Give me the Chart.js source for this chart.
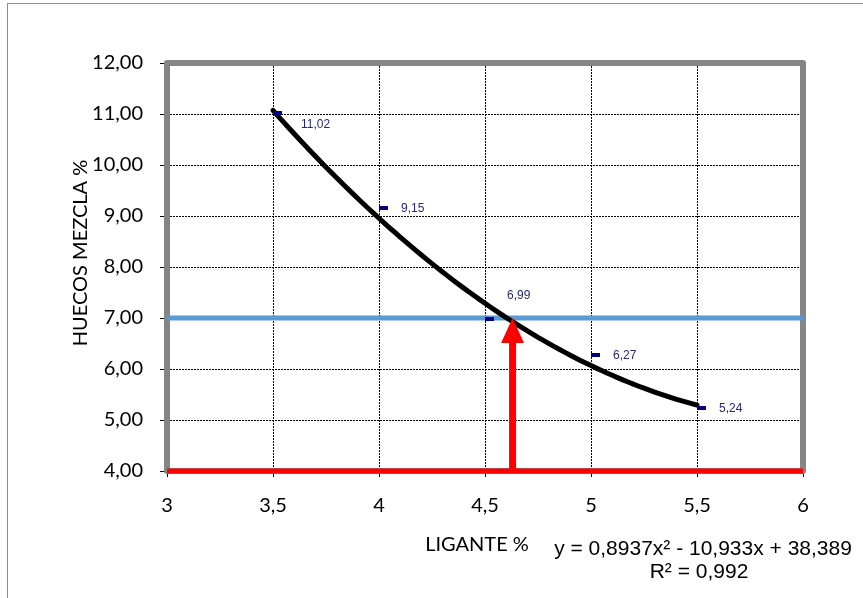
<!DOCTYPE html>
<html>
<head>
<meta charset="utf-8">
<script src="https://cdn.jsdelivr.net/npm/chart.js@4/dist/chart.umd.min.js"></script>
<style>
  html, body { margin: 0; padding: 0; background: #ffffff; }
  #wrap { width: 863px; height: 598px; position: relative; }
</style>
</head>
<body>
<div id="wrap"><canvas id="c" width="863" height="598"></canvas></div>
<script>
// Ensayo Marshall: huecos en mezcla frente a contenido de ligante
const ligante = [3.5, 4.0, 4.5, 5.0, 5.5];
const huecos = [11.02, 9.15, 6.99, 6.27, 5.24];
const valueLabels = ['11,02', '9,15', '6,99', '6,27', '5,24'];

// Línea de tendencia polinómica de grado 2: y = a·x² + b·x + c
const trendCoef = [0.8937, -10.933, 38.389];
const trendRange = [3.5, 5.5];
const equationLines = ['y = 0,8937x\u00B2 - 10,933x + 38,389', 'R\u00B2 = 0,992'];

// Huecos objetivo y contenido óptimo de ligante
const targetHuecos = 7;
const optimoLigante = 4.63;

const xTicks = [3, 3.5, 4, 4.5, 5, 5.5, 6];
const yTicks = [4, 5, 6, 7, 8, 9, 10, 11, 12];
const xTitle = 'LIGANTE %';
const yTitle = 'HUECOS MEZCLA %';

// Curva de tendencia evaluada sobre el rango de ensayo
const trendPoints = [];
for (let i = 0; i <= 80; i++) {
  const xv = trendRange[0] + (trendRange[1] - trendRange[0]) * i / 80;
  trendPoints.push({ x: xv, y: trendCoef[0] * xv * xv + trendCoef[1] * xv + trendCoef[2] });
}

// Marcador tipo guion (se dibuja a la derecha del punto)
const dash = document.createElement('canvas');
dash.width = 18; dash.height = 4;
(function () {
  const g = dash.getContext('2d');
  g.fillStyle = '#000080';
  g.fillRect(9, 0, 9, 4);
})();

const labelOffsets = [[28, 12], [22, 0], [22, -23], [22, 0], [22, 1]];

const decorations = {
  id: 'decorations',
  beforeDraw(chart) {
    const ctx = chart.ctx;
    ctx.save();
    ctx.fillStyle = '#ffffff';
    ctx.fillRect(0, 0, chart.width, chart.height);
    ctx.strokeStyle = '#8c8c8c';
    ctx.lineWidth = 1;
    ctx.strokeRect(7.5, 3.5, 1000, 1000);
    ctx.restore();
  },
  beforeDatasetsDraw(chart) {
    const ctx = chart.ctx;
    const a = chart.chartArea;
    ctx.save();
    ctx.strokeStyle = '#858585';
    ctx.lineWidth = 6;
    ctx.lineJoin = 'round';
    ctx.strokeRect(a.left, a.top, a.right - a.left, a.bottom - a.top);
    ctx.restore();
  },
  afterDatasetsDraw(chart) {
    const ctx = chart.ctx;
    const xs = chart.scales.x, ys = chart.scales.y;
    ctx.save();
    // Flecha hacia el contenido óptimo
    const ax = xs.getPixelForValue(optimoLigante);
    const yTip = ys.getPixelForValue(targetHuecos);
    const yBase = ys.getPixelForValue(yTicks[0]);
    const headLen = 25, headHalf = 11.5, shaftHalf = 3.5;
    ctx.fillStyle = '#ff0000';
    ctx.beginPath();
    ctx.moveTo(ax - shaftHalf, yBase);
    ctx.lineTo(ax - shaftHalf, yTip + headLen);
    ctx.lineTo(ax - headHalf, yTip + headLen);
    ctx.lineTo(ax, yTip);
    ctx.lineTo(ax + headHalf, yTip + headLen);
    ctx.lineTo(ax + shaftHalf, yTip + headLen);
    ctx.lineTo(ax + shaftHalf, yBase);
    ctx.closePath();
    ctx.fill();

    // Etiquetas de valor
    ctx.fillStyle = '#26267f';
    ctx.font = '12px "Liberation Sans", Arial, sans-serif';
    ctx.textAlign = 'left';
    ctx.textBaseline = 'middle';
    ligante.forEach((xv, i) => {
      const px = xs.getPixelForValue(xv) + labelOffsets[i][0];
      const py = ys.getPixelForValue(huecos[i]) + labelOffsets[i][1];
      ctx.fillText(valueLabels[i], px, py);
    });

    // Títulos de ejes
    ctx.fillStyle = '#000000';
    ctx.font = '20px Lato, "Open Sans", sans-serif';
    ctx.textAlign = 'center';
    ctx.fillText(xTitle, 477, 545);
    ctx.save();
    ctx.translate(81, 253);
    ctx.rotate(-Math.PI / 2);
    ctx.fillText(yTitle, 0, 0);
    ctx.restore();

    // Ecuación de la tendencia
    ctx.font = '21px "Liberation Sans", Arial, sans-serif';
    ctx.fillText(equationLines[0], 703, 549);
    ctx.fillText(equationLines[1], 699, 572);
    ctx.restore();
  }
};

new Chart(document.getElementById('c'), {
  type: 'scatter',
  data: {
    datasets: [
      {
        label: 'Huecos',
        data: ligante.map((v, i) => ({ x: v, y: huecos[i] })),
        pointStyle: dash,
        pointRadius: 4,
        showLine: false,
        order: 0,
        clip: false
      },
      {
        label: 'Tendencia',
        data: trendPoints,
        showLine: true,
        borderColor: '#000000',
        borderWidth: 5,
        pointRadius: 0,
        tension: 0,
        borderCapStyle: 'round',
        order: 1,
        clip: false
      },
      {
        label: 'Huecos objetivo',
        data: [{ x: xTicks[0], y: targetHuecos }, { x: xTicks[xTicks.length - 1], y: targetHuecos }],
        showLine: true,
        borderColor: '#5b9bd5',
        borderWidth: 5,
        pointRadius: 0,
        order: 2,
        clip: false
      },
      {
        label: 'Base',
        data: [{ x: xTicks[0], y: yTicks[0] }, { x: xTicks[xTicks.length - 1], y: yTicks[0] }],
        showLine: true,
        borderColor: '#ff0000',
        borderWidth: 5,
        pointRadius: 0,
        order: 3,
        clip: false
      }
    ]
  },
  options: {
    responsive: false,
    animation: false,
    devicePixelRatio: 1,
    layout: { padding: { left: 0, top: 63, right: 60, bottom: 0 } },
    plugins: { legend: { display: false }, tooltip: { enabled: false } },
    scales: {
      x: {
        type: 'linear',
        min: xTicks[0],
        max: xTicks[xTicks.length - 1],
        afterBuildTicks(scale) { scale.ticks = xTicks.map(v => ({ value: v })); },
        afterFit(scale) { scale.height = 127; },
        grid: { color: '#000000', lineWidth: 1, drawTicks: true, tickLength: 6, tickColor: '#000000', tickBorderDash: [] },
        border: { display: false, dash: [2, 1] },
        ticks: {
          color: '#000000',
          font: { family: 'Lato', size: 20 },
          padding: 17,
          maxRotation: 0,
          callback: v => String(v).replace('.', ',')
        }
      },
      y: {
        type: 'linear',
        min: yTicks[0],
        max: yTicks[yTicks.length - 1],
        afterBuildTicks(scale) { scale.ticks = yTicks.map(v => ({ value: v })); },
        afterFit(scale) { scale.width = 167; },
        grid: { color: '#000000', lineWidth: 1, drawTicks: true, tickLength: 7, tickColor: '#000000', tickBorderDash: [] },
        border: { display: false, dash: [2, 1] },
        ticks: {
          color: '#000000',
          font: { family: 'Lato', size: 20 },
          padding: 17,
          callback: v => Number(v).toFixed(2).replace('.', ',')
        }
      }
    }
  },
  plugins: [decorations]
});
</script>
</body>
</html>
